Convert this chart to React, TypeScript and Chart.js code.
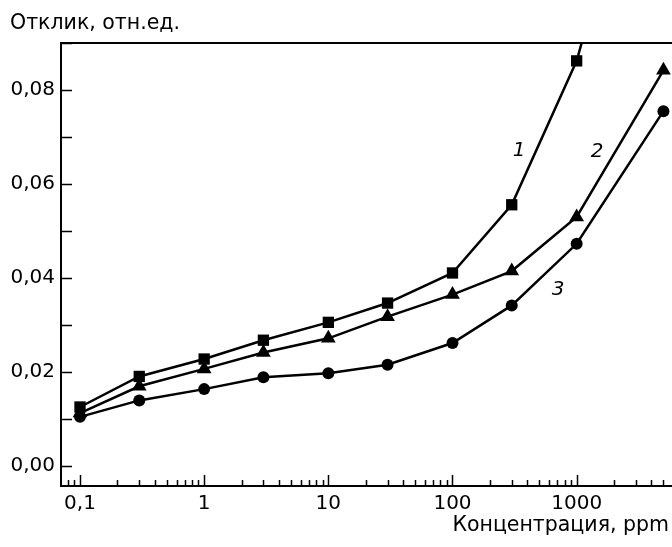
import React, { useEffect, useRef } from "react";
import { Chart, registerables } from "chart.js";

Chart.register(...registerables);

const concentrations = [0.1, 0.3, 1, 3, 10, 30, 100, 300, 1000, 5000];
const series1 = [0.0126, 0.0191, 0.0228, 0.0268, 0.0306, 0.0347, 0.0411, 0.0556, 0.0862, 0.152];
const series2 = [0.0113, 0.017, 0.0207, 0.0242, 0.0272, 0.0318, 0.0365, 0.0415, 0.053, 0.0842];
const series3 = [0.0105, 0.014, 0.0164, 0.0189, 0.0198, 0.0216, 0.0262, 0.0342, 0.0473, 0.0755];
const seriesNames = ["1", "2", "3"];
const yTitle = "Отклик, отн.ед.";
const xTitle = "Концентрация, ppm";
const xMin = 0.0703;
const xMax = 5860;
const yMin = -0.0042;
const yMax = 0.09;

const FONT = '"DejaVu Sans", "Liberation Sans", Arial, sans-serif';

const toPoints = (ys: number[]) => concentrations.map((x, i) => ({ x, y: ys[i] }));

const isPow10 = (v: number) => {
  const l = Math.log10(v);
  return Math.abs(l - Math.round(l)) < 1e-9;
};

const axesPlugin = {
  id: "customAxes",
  afterDraw(chart: any) {
    const { ctx, chartArea } = chart;
    const xs = chart.scales.x;
    const ys = chart.scales.y;
    const { left, right, top, bottom } = chartArea;
    ctx.save();
    ctx.strokeStyle = "#000";
    ctx.fillStyle = "#000";
    // frame
    ctx.lineWidth = 2;
    ctx.beginPath();
    ctx.moveTo(right + 2, top);
    ctx.lineTo(left, top);
    ctx.lineTo(left, bottom);
    ctx.lineTo(right + 2, bottom);
    ctx.stroke();
    // x ticks
    ctx.lineWidth = 1.5;
    ctx.beginPath();
    for (let n = -2; n <= 4; n++) {
      for (let k = 1; k <= 9; k++) {
        const v = k * Math.pow(10, n);
        if (v < xMin || v > xMax) continue;
        const px = Math.round(xs.getPixelForValue(v)) + 0.5;
        const len = k === 1 ? 11 : 6;
        ctx.moveTo(px, bottom);
        ctx.lineTo(px, bottom - len);
      }
    }
    // y ticks
    for (let i = 0; i <= 9; i++) {
      const v = i * 0.01;
      const py = Math.round(ys.getPixelForValue(v)) + 0.5;
      ctx.moveTo(left, py);
      ctx.lineTo(left + 11, py);
    }
    ctx.stroke();
    // titles
    ctx.font = `20.5px ${FONT}`;
    ctx.textBaseline = "middle";
    ctx.textAlign = "left";
    ctx.fillText(yTitle, 10, 24);
    ctx.textAlign = "right";
    ctx.fillText(xTitle, 669, 526);
    // series labels
    ctx.font = `italic 20px ${FONT}`;
    ctx.textAlign = "center";
    ctx.fillText(seriesNames[0], 519, 151);
    ctx.fillText(seriesNames[1], 597, 152);
    ctx.fillText(seriesNames[2], 558, 290);
    ctx.restore();
  },
};

export default function App() {
  const ref = useRef<HTMLCanvasElement | null>(null);
  useEffect(() => {
    if (!ref.current) return;
    const common = {
      borderColor: "#000",
      backgroundColor: "#000",
      pointBackgroundColor: "#000",
      pointBorderWidth: 0,
      borderWidth: 2.5,
      fill: false,
      tension: 0,
    };
    const chart = new Chart(ref.current, {
      type: "line",
      data: {
        datasets: [
          { ...common, label: seriesNames[0], data: toPoints(series1), pointStyle: "rect", pointRadius: 8 },
          { ...common, label: seriesNames[1], data: toPoints(series2), pointStyle: "triangle", pointRadius: 8.5 },
          { ...common, label: seriesNames[2], data: toPoints(series3), pointStyle: "circle", pointRadius: 6 },
        ],
      },
      options: {
        animation: false,
        responsive: false,
        devicePixelRatio: 1,
        layout: { autoPadding: false, padding: { top: 43, right: 0, left: 0, bottom: 0 } },
        plugins: { legend: { display: false }, tooltip: { enabled: false }, title: { display: false } },
        scales: {
          x: {
            type: "logarithmic",
            min: xMin,
            max: xMax,
            border: { display: false },
            grid: { display: false, drawTicks: false },
            afterFit: (s: any) => {
              s.height = 61;
              s.paddingLeft = 0;
              s.paddingRight = 0;
            },
            ticks: {
              autoSkip: false,
              maxRotation: 0,
              padding: 6,
              color: "#000",
              font: { family: FONT, size: 20 },
              callback: (v: any) => {
                const n = Number(v);
                if (!isPow10(n)) return "";
                return String(n).replace(".", ",");
              },
            },
          },
          y: {
            type: "linear",
            min: yMin,
            max: yMax,
            border: { display: false },
            grid: { display: false, drawTicks: false },
            afterFit: (s: any) => {
              s.width = 61;
              s.paddingTop = 0;
              s.paddingBottom = 0;
            },
            ticks: {
              stepSize: 0.02,
              includeBounds: false,
              padding: 6,
              color: "#000",
              font: { family: FONT, size: 20 },
              callback: (v: any) => Number(v).toFixed(2).replace(".", ","),
            },
          },
        },
      },
      plugins: [axesPlugin],
    } as any);
    return () => chart.destroy();
  }, []);
  return (
    <div style={{ position: "fixed", left: 0, top: 0, width: 672, height: 547, background: "#fff" }}>
      <canvas ref={ref} width={672} height={547} style={{ display: "block" }} />
    </div>
  );
}
